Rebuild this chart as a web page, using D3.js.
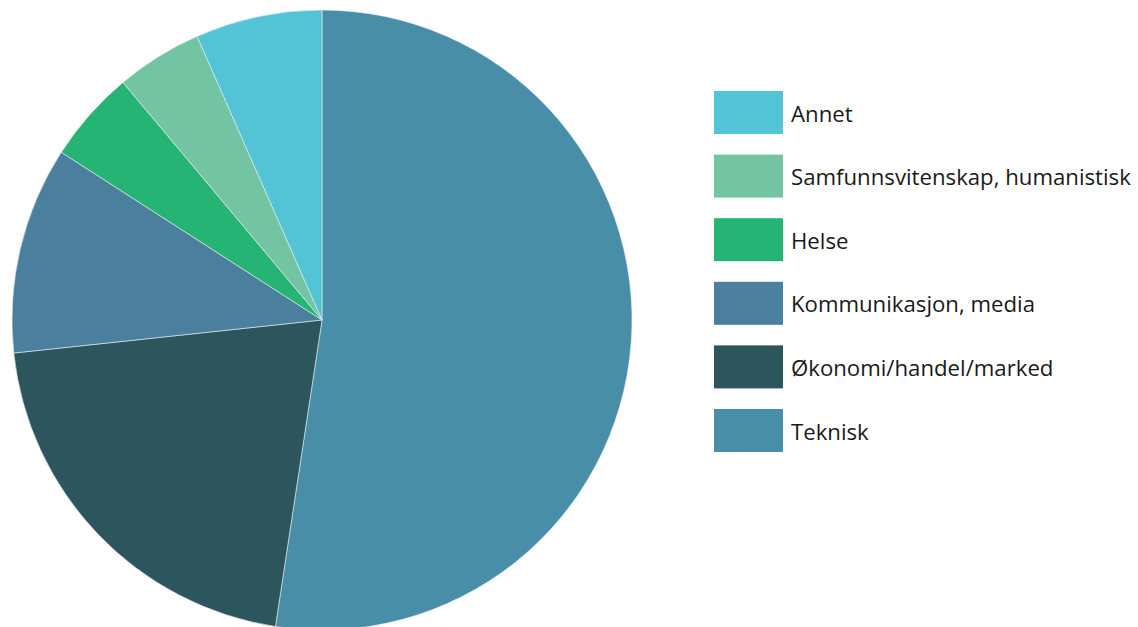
<!DOCTYPE html>
<html>
<head>
<meta charset="utf-8">
<script src="https://cdn.jsdelivr.net/npm/d3@7"></script>
<style>
  html, body { margin: 0; padding: 0; background: #fff; }
  svg { display: block; }
</style>
</head>
<body>
<div id="chart"></div>
<script>
// pie order clockwise from 12 o'clock
const categories = ["Teknisk", "Økonomi/handel/marked", "Kommunikasjon, media", "Helse", "Samfunnsvitenskap, humanistisk", "Annet"];
const values = [52.4, 20.9, 10.8, 4.8, 4.5, 6.6];
const colors = ["#488ea9", "#2d555d", "#4b7f9e", "#25b473", "#72c4a3", "#53c4d5"];
// legend top to bottom
const legendOrder = ["Annet", "Samfunnsvitenskap, humanistisk", "Helse", "Kommunikasjon, media", "Økonomi/handel/marked", "Teknisk"];

const width = 1138, height = 627;
const cx = 322, cy = 320, radius = 310;

const data = categories.map((c, i) => ({ name: c, value: values[i] }));
const color = d3.scaleOrdinal().domain(categories).range(colors);

const svg = d3.select("#chart")
  .append("svg")
  .attr("width", width)
  .attr("height", height);

const pie = d3.pie().sort(null).value(d => d.value);
const arc = d3.arc().innerRadius(0).outerRadius(radius);

svg.append("g")
  .attr("transform", "translate(" + cx + "," + cy + ")")
  .selectAll("path")
  .data(pie(data))
  .enter()
  .append("path")
  .attr("d", arc)
  .attr("fill", d => color(d.data.name))
  .attr("stroke", "#e8eef0")
  .attr("stroke-width", 0.6);

// legend
const legendY = d3.scalePoint()
  .domain(legendOrder)
  .range([91, 409]);

const legend = svg.append("g")
  .selectAll("g")
  .data(legendOrder)
  .enter()
  .append("g")
  .attr("transform", d => "translate(714," + legendY(d) + ")");

legend.append("rect")
  .attr("width", 69)
  .attr("height", 43)
  .attr("fill", d => color(d));

legend.append("text")
  .attr("x", 77)
  .attr("y", 30.5)
  .attr("font-family", "'Open Sans', sans-serif")
  .attr("font-size", 22.2)
  .attr("fill", "#1a1a1a")
  .text(d => d);
</script>
</body>
</html>
